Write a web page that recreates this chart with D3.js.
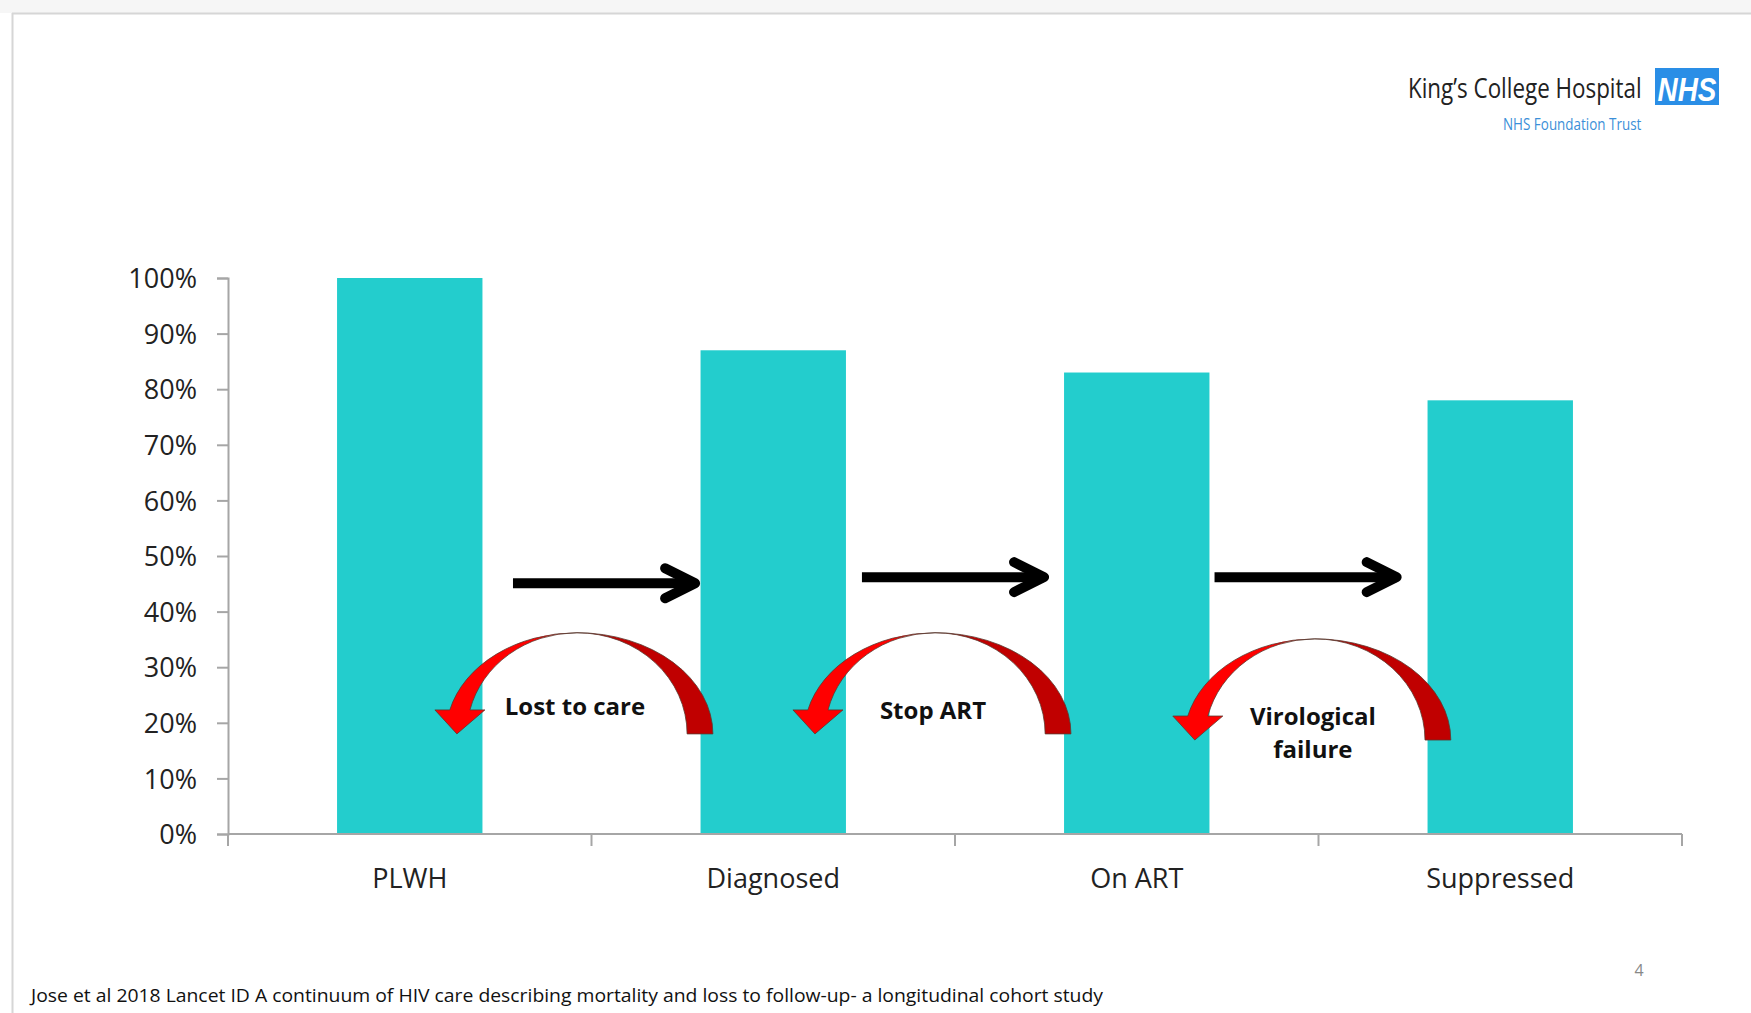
<!DOCTYPE html>
<html>
<head>
<meta charset="utf-8">
<script src="https://cdn.jsdelivr.net/npm/d3@7"></script>
<style>
  html, body { margin: 0; padding: 0; background: #ffffff; }
  svg { display: block; }
</style>
</head>
<body>
<svg id="chart" width="1751" height="1013"></svg>
<script>
// ---------------- DATA ----------------
const categories = ["PLWH", "Diagnosed", "On ART", "Suppressed"];
const values = [1.00, 0.87, 0.83, 0.78];
const yTicks = [0, 0.1, 0.2, 0.3, 0.4, 0.5, 0.6, 0.7, 0.8, 0.9, 1.0];
const yTickLabels = ["0%", "10%", "20%", "30%", "40%", "50%", "60%", "70%", "80%", "90%", "100%"];

// flow arrows between stages (boundary index, offset in band units, level)
const flowBoundary = [1, 2, 3];
const flowOffset = [0.04, 0.0, -0.03];
const flowLevel = [0.451, 0.462, 0.462];

// curved "loss" arrows
const lossLabels = [["Lost to care"], ["Stop ART"], ["Virological", "failure"]];
const lossBoundary = [1, 2, 3];
const lossOffset = [-0.04, -0.055, -0.01];
const lossBase = [0.180, 0.180, 0.169];
const lossTop = [0.362, 0.362, 0.351];
const lossLabelLines = [[0.214], [0.207], [0.196, 0.137]];

const footnote = "Jose et al 2018 Lancet ID A continuum of HIV care describing mortality and loss to follow-up- a longitudinal cohort study";
const pageNumber = "4";

// ---------------- LAYOUT ----------------
const svg = d3.select("#chart");
const W = 1751, H = 1013;
const mLeft = 228, mRight = 1682, mTop = 278, mBottom = 834;

// slide frame
svg.append("rect").attr("x", 0).attr("y", 0).attr("width", W).attr("height", 13).attr("fill", "#f6f6f6");
svg.append("line").attr("x1", 12).attr("x2", W).attr("y1", 13.5).attr("y2", 13.5).attr("stroke", "#d6d6d6").attr("stroke-width", 2);
svg.append("line").attr("x1", 12.5).attr("x2", 12.5).attr("y1", 13).attr("y2", H).attr("stroke", "#d6d6d6").attr("stroke-width", 2);

const x = d3.scaleBand().domain(categories).range([mLeft, mRight]).padding(0);
const y = d3.scaleLinear().domain([0, 1]).range([mBottom, mTop]);
const bw = x.bandwidth();
const boundaryX = i => mLeft + i * x.step();

const g = svg.append("g");

// bars
g.selectAll("rect.bar").data(categories).join("rect")
  .attr("class", "bar")
  .attr("x", d => x(d) + bw * 0.3)
  .attr("width", bw * 0.4)
  .attr("y", (d, i) => y(values[i]))
  .attr("height", (d, i) => y(0) - y(values[i]))
  .attr("fill", "#23cdcd");

// y axis
const yAxis = d3.axisLeft(y).tickValues(yTicks).tickFormat((d, i) => yTickLabels[i]).tickSize(11).tickPadding(20);
const yg = svg.append("g").attr("transform", `translate(${mLeft},0)`).call(yAxis);
yg.select(".domain").attr("stroke", "#a6a6a6").attr("stroke-width", 2);
yg.selectAll(".tick line").attr("stroke", "#a6a6a6").attr("stroke-width", 2);
yg.selectAll(".tick text").attr("font-family", "'Open Sans', sans-serif").attr("font-size", 27).attr("fill", "#222").attr("dy", "0.36em");

// x axis (ticks at band boundaries)
const xg = svg.append("g");
xg.append("line").attr("x1", mLeft).attr("x2", mRight).attr("y1", mBottom).attr("y2", mBottom).attr("stroke", "#a6a6a6").attr("stroke-width", 2);
xg.selectAll("line.xt").data(d3.range(categories.length + 1)).join("line")
  .attr("class", "xt")
  .attr("x1", i => boundaryX(i)).attr("x2", i => boundaryX(i))
  .attr("y1", mBottom).attr("y2", mBottom + 12)
  .attr("stroke", "#a6a6a6").attr("stroke-width", 2);
xg.selectAll("text").data(categories).join("text")
  .attr("x", d => x(d) + bw / 2)
  .attr("y", mBottom + 54)
  .attr("text-anchor", "middle")
  .attr("font-family", "'Open Sans', sans-serif").attr("font-size", 27).attr("fill", "#222")
  .text(d => d);

// flow arrows (black)
const arrowLen = 0.512 * bw;
flowBoundary.forEach((b, i) => {
  const cx = boundaryX(b) + flowOffset[i] * bw;
  const yy = y(flowLevel[i]);
  const x0 = cx - arrowLen / 2, x1 = cx + arrowLen / 2 - 4;
  g.append("line").attr("x1", x0).attr("x2", x1).attr("y1", yy).attr("y2", yy)
    .attr("stroke", "#000").attr("stroke-width", 10);
  g.append("path")
    .attr("d", `M${x1 - 30},${yy - 15} L${x1},${yy} L${x1 - 30},${yy + 15}`)
    .attr("fill", "none").attr("stroke", "#000").attr("stroke-width", 10)
    .attr("stroke-linecap", "round").attr("stroke-linejoin", "round");
});

// curved loss arrows (red)
lossBoundary.forEach((b, i) => {
  const cx = boundaryX(b) + lossOffset[i] * bw;
  const yb = y(lossBase[i]);
  const ry = y(lossBase[i]) - y(lossTop[i]);
  const rxo = 0.374 * bw, rxi = 0.303 * bw, rxoL = 0.36 * bw;
  const topY = yb - ry;
  // dark right limb
  g.append("path")
    .attr("d", `M${cx + rxo},${yb} A${rxo},${ry} 0 0 0 ${cx},${topY} A${rxi},${ry} 0 0 1 ${cx + rxi},${yb} Z`)
    .attr("fill", "#c00000").attr("stroke", "#5a3a30").attr("stroke-width", 0.8);
  // bright left limb with head
  const dy = 24;
  const k = Math.sqrt(1 - (dy / ry) * (dy / ry));
  const yh = yb - dy;
  const xo = cx - rxoL * k, xi = cx - rxi * k;
  const xs = (xo + xi) / 2;
  g.append("path")
    .attr("d", `M${cx},${topY} A${rxoL},${ry} 0 0 0 ${xo},${yh} L${xs - 25},${yh} L${xs - 3},${yb} L${xs + 25},${yh} L${xi},${yh} A${rxi},${ry} 0 0 1 ${cx},${topY} Z`)
    .attr("fill", "#ff0000").attr("stroke", "#5a3a30").attr("stroke-width", 0.8).attr("stroke-linejoin", "miter");
  // label
  lossLabels[i].forEach((t, j) => {
    g.append("text")
      .attr("x", cx - 2)
      .attr("y", y(lossLabelLines[i][j]))
      .attr("text-anchor", "middle")
      .attr("font-family", "'Open Sans', sans-serif").attr("font-weight", 700).attr("font-size", 24)
      .attr("fill", "#111")
      .text(t);
  });
});

// logo (condensed by horizontal scaling)
svg.append("text").attr("transform", "translate(1408,98) scale(0.80,1)")
  .attr("font-family", "'Open Sans', sans-serif").attr("font-size", 28).attr("fill", "#222")
  .text("King\u2019s College Hospital");
svg.append("rect").attr("x", 1655).attr("y", 68).attr("width", 64).attr("height", 37).attr("fill", "#2a8ee6");
svg.append("text").attr("transform", "translate(1687,101) scale(0.82,1)")
  .attr("text-anchor", "middle")
  .attr("font-family", "'Liberation Sans', Arial, sans-serif").attr("font-size", 34).attr("font-weight", 700).attr("font-style", "italic")
  .attr("fill", "#ffffff")
  .text("NHS");
svg.append("text").attr("transform", "translate(1503,130) scale(0.84,1)")
  .attr("font-family", "'Open Sans', sans-serif").attr("font-size", 16).attr("fill", "#3b8fd8")
  .text("NHS Foundation Trust");

// page number and footnote
svg.append("text").attr("x", 1639).attr("y", 976).attr("text-anchor", "middle")
  .attr("font-family", "'Open Sans', sans-serif").attr("font-size", 16).attr("fill", "#888")
  .text(pageNumber);
svg.append("text").attr("x", 31).attr("y", 1002)
  .attr("font-family", "'Open Sans', sans-serif").attr("font-size", 19).attr("fill", "#111")
  .attr("textLength", 1072).attr("lengthAdjust", "spacingAndGlyphs")
  .text(footnote);
</script>
</body>
</html>
